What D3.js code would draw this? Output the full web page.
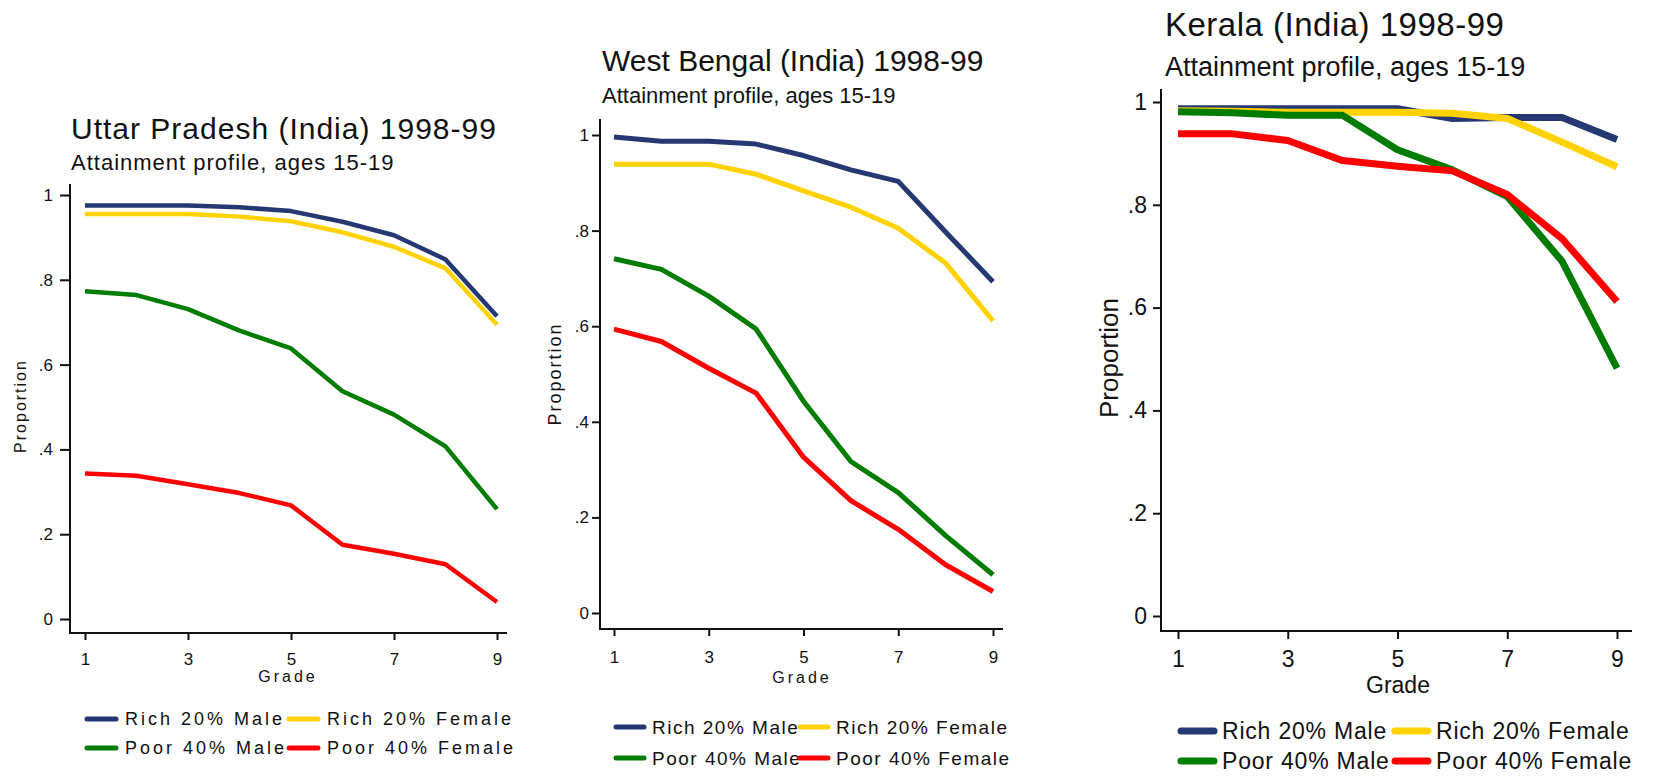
<!DOCTYPE html>
<html>
<head>
<meta charset="utf-8">
<script src="https://d3js.org/d3.v7.min.js"></script>
<style>
  body { margin: 0; background: #fff; }
  svg { display: block; }
  text { font-family: "Liberation Sans", Arial, sans-serif; fill: #111; }
</style>
</head>
<body>
<svg width="1653" height="776"></svg>
<script>
// data
var grades = [1, 2, 3, 4, 5, 6, 7, 8, 9];
var xTicks = [1, 3, 5, 7, 9];
var yTicks = [0, 0.2, 0.4, 0.6, 0.8, 1];
var seriesNames = ["Rich 20% Male", "Rich 20% Female", "Poor 40% Male", "Poor 40% Female"];
var colors = ["#253872", "#ffd200", "#007c00", "#ff0000"];
var subtitle = "Attainment profile, ages 15-19";

// Uttar Pradesh
var upRichMale     = [0.975, 0.975, 0.975, 0.971, 0.962, 0.937, 0.905, 0.848, 0.714];
var upRichFemale   = [0.955, 0.955, 0.955, 0.949, 0.938, 0.912, 0.878, 0.827, 0.694];
var upPoorMale     = [0.773, 0.764, 0.731, 0.680, 0.638, 0.537, 0.482, 0.407, 0.259];
var upPoorFemale   = [0.343, 0.338, 0.318, 0.297, 0.268, 0.175, 0.154, 0.129, 0.040];
// West Bengal
var wbRichMale     = [0.996, 0.987, 0.987, 0.981, 0.957, 0.927, 0.903, 0.797, 0.693];
var wbRichFemale   = [0.939, 0.939, 0.939, 0.918, 0.883, 0.849, 0.805, 0.732, 0.611];
var wbPoorMale     = [0.741, 0.719, 0.663, 0.594, 0.443, 0.317, 0.252, 0.162, 0.080];
var wbPoorFemale   = [0.594, 0.568, 0.512, 0.460, 0.326, 0.235, 0.175, 0.101, 0.045];
// Kerala
var kerRichMale    = [0.987, 0.987, 0.987, 0.987, 0.987, 0.968, 0.970, 0.970, 0.927];
var kerRichFemale  = [0.983, 0.982, 0.980, 0.980, 0.980, 0.978, 0.968, 0.922, 0.874];
var kerPoorMale    = [0.981, 0.979, 0.974, 0.974, 0.907, 0.868, 0.816, 0.690, 0.482];
var kerPoorFemale  = [0.938, 0.938, 0.925, 0.886, 0.875, 0.866, 0.820, 0.734, 0.612];

var svg = d3.select("svg");

var fmt = function(d) {
  if (d === 0) return "0";
  if (d === 1) return "1";
  return String(d).replace("0.", ".");
};

// layout for each panel (pixel positions of the original picture)
var panels = [
  { title: "Uttar Pradesh (India) 1998-99", series: [upRichMale, upRichFemale, upPoorMale, upPoorFemale],
    xr: [85, 497], yr: [619, 195], axX: 70, axB: 633, axT: 184, axR: 507,
    tt: [71, 139, 30, 1], st: [71, 170, 22, 1],
    tickFont: 17, yTick: 10, yLblEnd: 53, xTick: 7, xLblBase: 665,
    prop: [20, 406, 16, 2], grade: [288, 682, 16, 3],
    leg: { x: [85, 287], sw: 33, off: 40, rows: [719, 748], font: 18, ls: 3, th: 5 }, lw: 4.5 },
  { title: "West Bengal (India) 1998-99", series: [wbRichMale, wbRichFemale, wbPoorMale, wbPoorFemale],
    xr: [614, 993], yr: [613, 135], axX: 600, axB: 629, axT: 119, axR: 1003,
    tt: [602, 71, 30, 0], st: [602, 103, 22, 0],
    tickFont: 17, yTick: 8, yLblEnd: 589, xTick: 7, xLblBase: 663,
    prop: [555, 374, 18, 2], grade: [802, 683, 16, 3],
    leg: { x: [614, 798], sw: 32, off: 38, rows: [727, 758], font: 19, ls: 1.5, th: 5 }, lw: 5 },
  { title: "Kerala (India) 1998-99", series: [kerRichMale, kerRichFemale, kerPoorMale, kerPoorFemale],
    xr: [1178, 1617], yr: [616, 102], axX: 1161, axB: 631, axT: 89, axR: 1632,
    tt: [1165, 36, 33, 0.5], st: [1165, 76, 27, 0],
    tickFont: 23, yTick: 8, yLblEnd: 1147, xTick: 8, xLblBase: 667,
    prop: [1109, 358, 26, 0], grade: [1398, 693, 23, 0],
    leg: { x: [1179, 1393], sw: 37, off: 43, rows: [731, 761], font: 23, ls: 0.8, th: 7 }, lw: 7 }
];

panels.forEach(function(p) {
  var g = svg.append("g");
  var x = d3.scaleLinear().domain([1, 9]).range(p.xr);
  var y = d3.scaleLinear().domain([0, 1]).range(p.yr);

  // titles
  g.append("text").attr("x", p.tt[0]).attr("y", p.tt[1])
    .style("font-size", p.tt[2] + "px").style("letter-spacing", p.tt[3] + "px")
    .text(p.title);
  g.append("text").attr("x", p.st[0]).attr("y", p.st[1])
    .style("font-size", p.st[2] + "px").style("letter-spacing", p.st[3] + "px")
    .text(subtitle);

  // y axis
  var yAxis = d3.axisLeft(y).tickValues(yTicks).tickFormat(fmt)
    .tickSize(p.yTick).tickSizeOuter(0)
    .tickPadding(p.axX - p.yTick - p.yLblEnd);
  var gy = g.append("g").attr("transform", "translate(" + p.axX + ",0)").call(yAxis);
  gy.select(".domain").remove();
  gy.selectAll("line").attr("stroke", "#111").attr("stroke-width", 2);
  gy.selectAll("text").style("font-size", p.tickFont + "px").attr("fill", "#111")
    .style("font-family", '"Liberation Sans", Arial, sans-serif');

  // x axis
  var xAxis = d3.axisBottom(x).tickValues(xTicks).tickFormat(d3.format("d"))
    .tickSize(p.xTick).tickSizeOuter(0)
    .tickPadding(p.xLblBase - p.axB - p.xTick - 0.71 * p.tickFont);
  var gx = g.append("g").attr("transform", "translate(0," + p.axB + ")").call(xAxis);
  gx.select(".domain").remove();
  gx.selectAll("line").attr("stroke", "#111").attr("stroke-width", 2);
  gx.selectAll("text").style("font-size", p.tickFont + "px").attr("fill", "#111")
    .style("font-family", '"Liberation Sans", Arial, sans-serif');

  // axis lines (Stata style, extending past the data range)
  g.append("line").attr("x1", p.axX).attr("x2", p.axX).attr("y1", p.axT).attr("y2", p.axB + 1)
    .attr("stroke", "#111").attr("stroke-width", 2);
  g.append("line").attr("x1", p.axX - 1).attr("x2", p.axR).attr("y1", p.axB).attr("y2", p.axB)
    .attr("stroke", "#111").attr("stroke-width", 2);

  // axis titles
  g.append("text")
    .attr("transform", "translate(" + p.prop[0] + "," + p.prop[1] + ") rotate(-90)")
    .attr("text-anchor", "middle").attr("dy", "0.35em")
    .style("font-size", p.prop[2] + "px").style("letter-spacing", p.prop[3] + "px")
    .text("Proportion");
  g.append("text").attr("x", p.grade[0]).attr("y", p.grade[1])
    .attr("text-anchor", "middle")
    .style("font-size", p.grade[2] + "px").style("letter-spacing", p.grade[3] + "px")
    .text("Grade");

  // lines
  var line = d3.line()
    .x(function(d, i) { return x(grades[i]); })
    .y(function(d) { return y(d); });
  g.selectAll("path.series").data(p.series).enter().append("path")
    .attr("class", "series")
    .attr("d", line)
    .attr("fill", "none")
    .attr("stroke", function(d, i) { return colors[i]; })
    .attr("stroke-width", p.lw)
    .attr("stroke-linejoin", "round");

  // legend, 2 x 2
  var leg = g.selectAll("g.leg").data(seriesNames).enter().append("g")
    .attr("class", "leg")
    .attr("transform", function(d, i) {
      return "translate(" + p.leg.x[i % 2] + "," + p.leg.rows[Math.floor(i / 2)] + ")";
    });
  leg.append("line").attr("x1", 2).attr("x2", p.leg.sw - 2).attr("y1", 0).attr("y2", 0)
    .attr("stroke", function(d, i) { return colors[i]; })
    .attr("stroke-width", p.leg.th).attr("stroke-linecap", "round");
  leg.append("text").attr("x", p.leg.off).attr("y", 0).attr("dy", "0.35em")
    .style("font-size", p.leg.font + "px").style("letter-spacing", p.leg.ls + "px")
    .text(function(d) { return d; });
});
</script>
</body>
</html>
